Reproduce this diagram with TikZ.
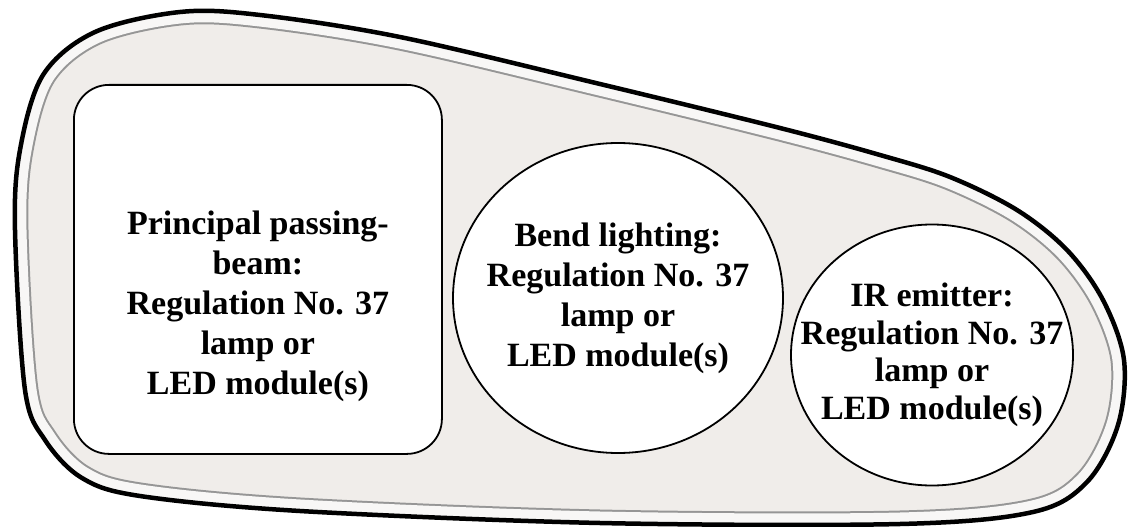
\documentclass[tikz,border=0pt]{standalone}
\usepackage{fontspec}
\setmainfont{Liberation Serif}
\usepackage{xcolor}
\usepackage{tikz}
\usetikzlibrary{positioning,shapes.geometric}

\definecolor{lampfill}{RGB}{240,237,234}
\definecolor{lampband}{RGB}{248,247,246}
\definecolor{lampline}{RGB}{150,150,150}

\begin{document}
\begin{tikzpicture}[x=1pt, y=-1pt,
    lampbox/.style={draw, line width=1.8pt, fill=white, inner sep=0pt},
    lamptext/.style={align=center, font=\fontsize{34}{40}\selectfont\bfseries}]
  \useasboundingbox (0,0) rectangle (1133,527);
  \path[save path=\lampoutline] plot[smooth cycle, tension=0.55] coordinates {
    (15,230) (20,150) (43,75) (95,32) (180,12) (260,15) (400,37) (600,84)
    (780,128) (880,155) (950,177) (1017,210) (1067,250) (1103,300) (1124,360)
    (1118,425) (1087,482) (1033,512) (900,524) (600,523) (300,511) (140,496)
    (82,478) (45,440) (25,390)};
  \fill[lampfill, use path=\lampoutline];
  \begin{scope}
    \clip[use path=\lampoutline];
    \draw[lampline, line width=27pt, use path=\lampoutline];
    \draw[lampband, line width=23pt, use path=\lampoutline];
  \end{scope}
  \draw[line width=4.5pt, use path=\lampoutline];

  \node[lampbox, rounded corners=35pt, minimum width=368pt, minimum height=369pt,
    anchor=north west] (beambox) at (73,84) {};
  \node[lampbox, ellipse, minimum width=330pt, minimum height=310pt] (bendlamp) at (618,298) {};
  \node[lampbox, ellipse, minimum width=282pt, minimum height=261pt] (irlamp) at (932,355) {};

  \node[lamptext] (beamlabel) at ([yshift=-37pt]beambox.center)
    {Principal passing-\\beam:\\Regulation No. 37\\lamp or\\LED module(s)};
  \node[lamptext] (bendlabel) at (bendlamp.center)
    {Bend lighting:\\Regulation No. 37\\lamp or\\LED module(s)};
  \node[lamptext, font=\fontsize{34}{37.5}\selectfont\bfseries] (irlabel) at (irlamp.center)
    {IR emitter:\\Regulation No. 37\\lamp or\\LED module(s)};
\end{tikzpicture}
\end{document}
